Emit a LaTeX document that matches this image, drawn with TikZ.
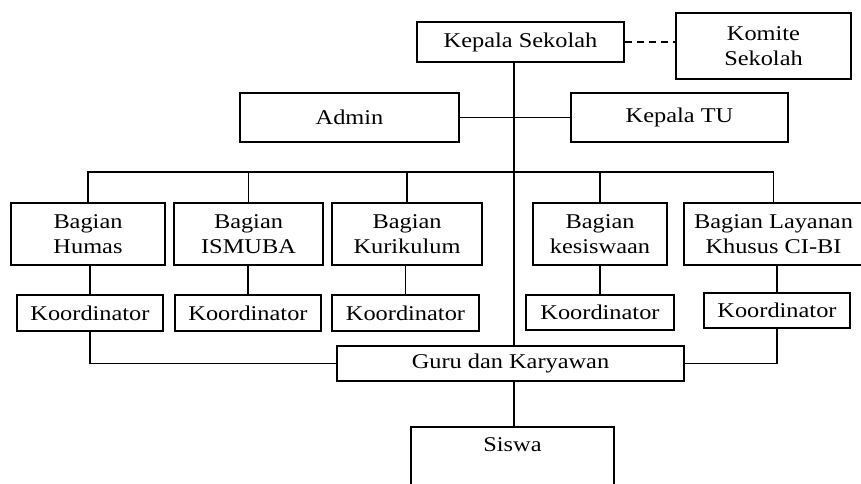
\documentclass[tikz,border=0pt]{standalone}
\usepackage{fontspec}
\setmainfont{Liberation Serif}[FakeStretch=1.16]
\begin{document}
\begin{tikzpicture}[x=1pt,y=-1pt,
  box/.style={draw=black,line width=2pt,inner sep=0pt,align=center,
    font=\fontsize{21}{25}\selectfont},
  conn/.style={line width=1.8pt,draw=black}]
\useasboundingbox (0,0) rectangle (861,483);
% top
\node[box,minimum width=207pt,minimum height=40pt] (ks) at (520.5,42) {Kepala Sekolah};
\node[box,minimum width=175pt,minimum height=66pt] (komite) at (763.5,46) {Komite\\Sekolah};
\node[box,minimum width=219pt,minimum height=49pt] (admin) at (349.5,117.5) {Admin};
\node[box,minimum width=217pt,minimum height=49pt] (tu) at (679.5,117.5) {Kepala TU};
% bagian
\node[box,minimum width=154pt,minimum height=62pt] (humas) at (88,234) {Bagian\\Humas};
\node[box,minimum width=149pt,minimum height=62pt] (ismuba) at (248.5,234) {Bagian\\ISMUBA};
\node[box,minimum width=150pt,minimum height=62pt] (kurik) at (407,234) {Bagian\\Kurikulum};
\node[box,minimum width=134pt,minimum height=62pt] (kesis) at (600,234) {Bagian\\kesiswaan};
\node[box,minimum width=179pt,minimum height=62pt] (cibi) at (773.5,234) {Bagian Layanan\\Khusus CI-BI};
% koordinator
\node[box,minimum width=146pt,minimum height=36pt] (k1) at (90,313) {Koordinator};
\node[box,minimum width=146pt,minimum height=36pt] (k2) at (248,313) {Koordinator};
\node[box,minimum width=147pt,minimum height=36pt] (k3) at (405.5,313) {Koordinator};
\node[box,minimum width=148pt,minimum height=35pt] (k4) at (600,312.5) {Koordinator};
\node[box,minimum width=146pt,minimum height=35pt] (k5) at (777,310.5) {Koordinator};
% bottom
\node[box,minimum width=347pt,minimum height=35pt] (guru) at (510.5,363.5) {Guru dan Karyawan};
\node[box,minimum width=203pt,minimum height=63pt,
  label={[anchor=north,yshift=-8pt,font=\fontsize{21}{25}\selectfont]north:Siswa}] (siswa) at (512.5,458.5) {};
% helper coordinates
\coordinate (t) at (514,0);
\coordinate (bus) at (0,172);
% connectors
\draw[conn] (ks.south -| t) -- (guru.north -| t);
\draw[conn,dashed,dash pattern=on 7pt off 5pt] (ks.east) -- (ks.east -| komite.west);
\draw[conn] (admin.east) -- (tu.west);
\draw[conn] (humas.north) -- (humas.north |- bus) -- (cibi.north |- bus) -- (cibi.north);
\draw[conn] (ismuba.north) -- (ismuba.north |- bus);
\draw[conn] (kurik.north) -- (kurik.north |- bus);
\draw[conn] (kesis.north) -- (kesis.north |- bus);
\draw[conn] (k1.north) -- (k1.north |- humas.south);
\draw[conn] (k2.north) -- (k2.north |- ismuba.south);
\draw[conn] (k3.north) -- (k3.north |- kurik.south);
\draw[conn] (k4.north) -- (k4.north |- kesis.south);
\draw[conn] (k5.north) -- (k5.north |- cibi.south);
\draw[conn] (k1.south) |- (guru.west);
\draw[conn] (k5.south) |- (guru.east);
\draw[conn] (guru.south -| t) -- (siswa.north -| t);
\end{tikzpicture}
\end{document}
